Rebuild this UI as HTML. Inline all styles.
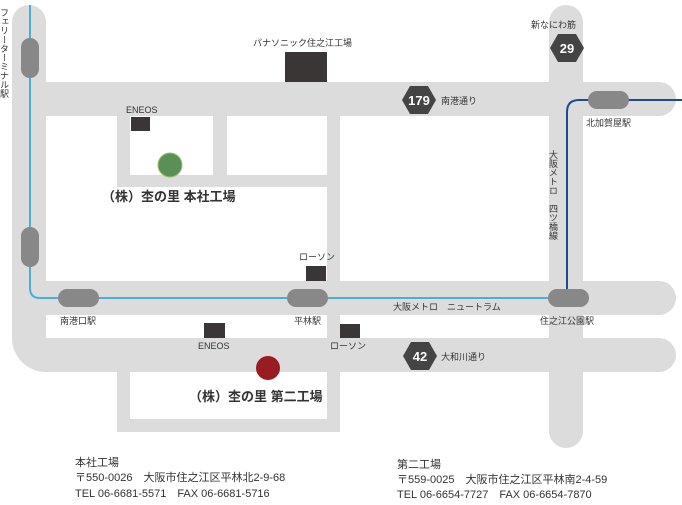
<!DOCTYPE html>
<html><head><meta charset="utf-8"><style>
html,body{margin:0;padding:0;background:#fff;}
svg{display:block;}
text{font-family:"Liberation Sans","Noto Sans CJK JP",sans-serif;fill:#333;}
</style></head><body>
<svg width="682" height="505" viewBox="0 0 682 505" xmlns="http://www.w3.org/2000/svg">
<g fill="#dcdcdc">
  <!-- left vertical road -->
  <path d="M12 22 A17 17 0 0 1 46 22 L46 338 L12 338 Z"/>
  <path d="M12 330 L12 338 A34 34 0 0 0 46 372 L46 338 Z"/>
  <!-- top road -->
  <path d="M46 82 L659 82 A17 17 0 0 1 659 116 L46 116 Z"/>
  <!-- tram road -->
  <path d="M46 281 L659 281 A17 17 0 0 1 659 315 L46 315 Z"/>
  <!-- bottom road -->
  <path d="M30 338 L659 338 A17 17 0 0 1 659 372 L46 372 Z"/>
  <!-- right vertical -->
  <path d="M549 22 A17 17 0 0 1 583 22 L583 431 A17 17 0 0 1 549 431 Z"/>
  <!-- inner roads -->
  <rect x="117" y="116" width="13" height="71"/>
  <rect x="213" y="116" width="14" height="60"/>
  <rect x="117" y="175" width="210" height="12"/>
  <rect x="327" y="116" width="13" height="316"/>
  <rect x="117" y="372" width="223" height="60"/>
</g>
<rect x="130" y="372" width="197" height="47" fill="#fff"/>
<!-- rail lines -->
<path d="M30 5 L30 288 Q30 298 40 298 L548 298" fill="none" stroke="#4aaed8" stroke-width="2"/>
<path d="M567 290 L567 112 Q567 100 579 100 L682 100" fill="none" stroke="#1f4a8f" stroke-width="2"/>
<!-- stations -->
<g fill="#888">
  <rect x="21" y="38" width="18" height="40" rx="9"/>
  <rect x="21" y="227" width="18" height="40" rx="9"/>
  <rect x="58" y="289" width="41" height="18" rx="9"/>
  <rect x="287" y="289" width="41" height="18" rx="9"/>
  <rect x="548" y="289" width="41" height="18" rx="9"/>
  <rect x="588" y="91" width="41" height="18" rx="9"/>
</g>
<!-- buildings -->
<g fill="#3a3636">
  <rect x="285" y="52" width="42" height="30"/>
  <rect x="131" y="117" width="19" height="14"/>
  <rect x="306" y="266" width="20" height="15"/>
  <rect x="204" y="323" width="21" height="15"/>
  <rect x="340" y="324" width="20" height="14"/>
</g>
<!-- hexagons -->
<g fill="#444">
  <polygon points="550,48 558,34 576,34 584,48 576,62 558,62"/>
  <polygon points="402,100 410,86 428,86 436,100 428,114 410,114"/>
  <polygon points="403,356 411,342 429,342 437,356 429,370 411,370"/>
</g>
<g font-weight="bold" font-size="13" text-anchor="middle">
  <text x="567" y="53" style="fill:#fff">29</text>
  <text x="419" y="105" style="fill:#fff">179</text>
  <text x="420" y="361" style="fill:#fff">42</text>
</g>
<!-- markers -->
<circle cx="170" cy="165" r="12" fill="#5a8f58" stroke="#9ac06a" stroke-width="1"/>
<circle cx="268" cy="368" r="12" fill="#9a1b22"/>
<!-- labels -->
<g font-size="9">
  <text x="253" y="46">パナソニック住之江工場</text>
  <text x="126" y="113">ENEOS</text>
  <text x="531" y="28">新なにわ筋</text>
  <text x="441" y="104">南港通り</text>
  <text x="586" y="126">北加賀屋駅</text>
  <text x="299" y="260">ローソン</text>
  <text x="60" y="324">南港口駅</text>
  <text x="294" y="324">平林駅</text>
  <text x="393" y="310">大阪メトロ　ニュートラム</text>
  <text x="540" y="324">住之江公園駅</text>
  <text x="198" y="349">ENEOS</text>
  <text x="330" y="349">ローソン</text>
  <text x="441" y="360">大和川通り</text>
  <text x="4" y="8" style="writing-mode:vertical-rl">フェリーターミナル駅</text>
  <text x="553" y="150" style="writing-mode:vertical-rl">大阪メトロ　四ツ橋線</text>
</g>
<g font-size="13" font-weight="bold">
  <text x="102" y="201">（株）杢の里 本社工場</text>
  <text x="189" y="401">（株）杢の里 第二工場</text>
</g>
<g font-size="11">
  <text x="75" y="466">本社工場</text>
  <text x="75" y="481">〒550-0026　大阪市住之江区平林北2-9-68</text>
  <text x="75" y="497">TEL 06-6681-5571　FAX 06-6681-5716</text>
  <text x="397" y="468">第二工場</text>
  <text x="397" y="483">〒559-0025　大阪市住之江区平林南2-4-59</text>
  <text x="397" y="498">TEL 06-6654-7727　FAX 06-6654-7870</text>
</g>
</svg>
</body></html>
